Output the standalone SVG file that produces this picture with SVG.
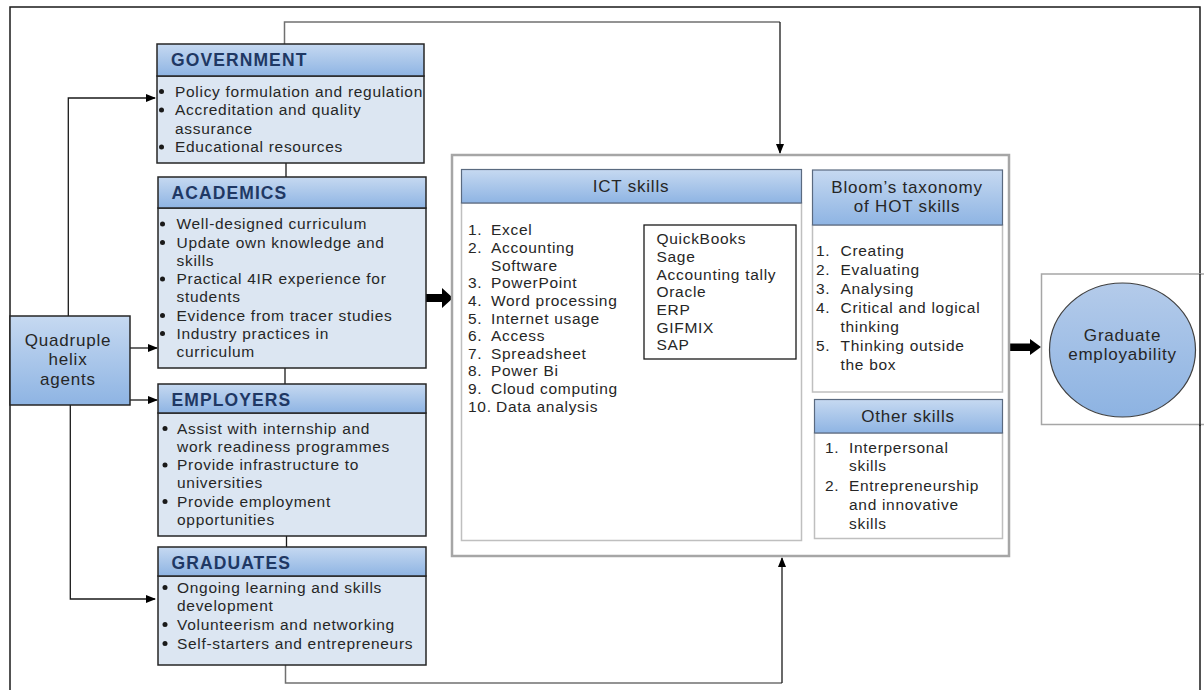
<svg xmlns="http://www.w3.org/2000/svg" width="1204" height="690" viewBox="0 0 1204 690">
<defs>
<linearGradient id="hdr" x1="0" y1="0" x2="0" y2="1">
<stop offset="0" stop-color="#c6d9f1"/>
<stop offset="1" stop-color="#8eb4e3"/>
</linearGradient>
<linearGradient id="circ" x1="0" y1="0" x2="0" y2="1">
<stop offset="0" stop-color="#b4cbea"/>
<stop offset="1" stop-color="#8db3e2"/>
</linearGradient>
<marker id="ah" markerWidth="10" markerHeight="10" refX="9" refY="5" orient="auto" markerUnits="userSpaceOnUse">
<path d="M0,1 L10,5 L0,9 z" fill="#000"/>
</marker>
</defs>
<style>
.t{font-family:"Liberation Sans",Arial,sans-serif;font-size:15.5px;letter-spacing:0.7px;fill:#262626}
.h{font-family:"Liberation Sans",Arial,sans-serif;font-size:17.5px;font-weight:bold;letter-spacing:1.1px;fill:#1f3864}
.c{font-family:"Liberation Sans",Arial,sans-serif;font-size:17px;letter-spacing:0.8px;fill:#262626;text-anchor:middle}
.hb{fill:url(#hdr);stroke:#262626;stroke-width:1.5}
.bb{fill:#dce6f2;stroke:#262626;stroke-width:1.5}
.sh{fill:url(#hdr);stroke:#5a6a80;stroke-width:1.2}
.sb{fill:#fff;stroke:#bfbfbf;stroke-width:1.5}
.ln{fill:none;stroke:#1a1a1a;stroke-width:1.3}
.lg{fill:none;stroke:#707070;stroke-width:1.5}
.thick{fill:#000}
.bul{fill:#1a1a1a}
</style>
<rect id="frame" x="10" y="7" width="1190" height="700" fill="#fff" stroke="#1a1a1a" stroke-width="1.5"/>

<g id="connectors">
<polyline class="lg" points="284.5,44 284.5,22 780,22"/>
<line class="ln" x1="780" y1="22" x2="780" y2="153" marker-end="url(#ah)"/>
<polyline class="lg" points="285.5,665 285.5,683 782,683"/>
<line class="ln" x1="782" y1="683" x2="782" y2="558" marker-end="url(#ah)"/>
<line class="ln" x1="286" y1="163" x2="286" y2="177"/>
<line class="ln" x1="285" y1="368" x2="285" y2="384"/>
<line class="ln" x1="286.5" y1="536" x2="286.5" y2="547"/>
<polyline class="ln" points="68.3,316 68.3,98 155,98" marker-end="url(#ah)"/>
<line class="ln" x1="130" y1="348" x2="157" y2="348" marker-end="url(#ah)"/>
<line class="ln" x1="130" y1="400" x2="157" y2="400" marker-end="url(#ah)"/>
<polyline class="ln" points="70.3,405 70.3,599 155,599" marker-end="url(#ah)"/>
<polygon class="thick" points="426,294 442,294 442,288 453,298 442,308 442,302 426,302"/>
<polygon class="thick" points="592,255.5 634,255.5 634,251 644,259 634,267 634,263 592,263"/>
<polygon class="thick" points="1009,343.5 1030,343.5 1030,339 1041,347 1030,355 1030,351 1009,351"/>
</g>

<g id="quadruple">
<rect x="10" y="316" width="120" height="89" fill="url(#hdr)" stroke="#262626" stroke-width="1.5"/>
<text class="c" x="68" y="346">Quadruple</text>
<text class="c" x="68" y="365">helix</text>
<text class="c" x="68" y="385">agents</text>
</g>

<g id="government">
<rect class="bb" x="157" y="76" width="267" height="87"/>
<rect class="hb" x="157" y="44" width="267" height="32"/>
<text class="h" x="171" y="66">GOVERNMENT</text>
<circle class="bul" cx="161.5" cy="91.5" r="2.5"/><text class="t" x="175" y="96.5">Policy formulation and regulation</text>
<circle class="bul" cx="161.5" cy="110" r="2.5"/><text class="t" x="175" y="115">Accreditation and quality</text>
<text class="t" x="175" y="133.5">assurance</text>
<circle class="bul" cx="161.5" cy="147" r="2.5"/><text class="t" x="175" y="152">Educational resources</text>
</g>

<g id="academics">
<rect class="bb" x="158" y="208" width="268" height="160"/>
<rect class="hb" x="158" y="177" width="268" height="31"/>
<text class="h" x="171.5" y="199">ACADEMICS</text>
<circle class="bul" cx="162.5" cy="224" r="2.5"/><text class="t" x="176.5" y="229">Well-designed curriculum</text>
<circle class="bul" cx="162.5" cy="242.5" r="2.5"/><text class="t" x="176.5" y="247.5">Update own knowledge and</text>
<text class="t" x="176.5" y="265.5">skills</text>
<circle class="bul" cx="162.5" cy="279" r="2.5"/><text class="t" x="176.5" y="284">Practical 4IR experience for</text>
<text class="t" x="176.5" y="302">students</text>
<circle class="bul" cx="162.5" cy="315.5" r="2.5"/><text class="t" x="176.5" y="320.5">Evidence from tracer studies</text>
<circle class="bul" cx="162.5" cy="333.5" r="2.5"/><text class="t" x="176.5" y="338.5">Industry practices in</text>
<text class="t" x="176.5" y="357">curriculum</text>
</g>

<g id="employers">
<rect class="bb" x="158" y="413" width="268" height="123"/>
<rect class="hb" x="158" y="384" width="268" height="29"/>
<text class="h" x="171.5" y="406">EMPLOYERS</text>
<circle class="bul" cx="165" cy="428.5" r="2.5"/><text class="t" x="177" y="433.5">Assist with internship and</text>
<text class="t" x="177" y="451.5">work readiness programmes</text>
<circle class="bul" cx="165" cy="465" r="2.5"/><text class="t" x="177" y="470">Provide infrastructure to</text>
<text class="t" x="177" y="488">universities</text>
<circle class="bul" cx="165" cy="501.5" r="2.5"/><text class="t" x="177" y="506.5">Provide employment</text>
<text class="t" x="177" y="524.5">opportunities</text>
</g>

<g id="graduates">
<rect class="bb" x="158" y="576" width="268" height="89"/>
<rect class="hb" x="158" y="547" width="268" height="29"/>
<text class="h" x="171.5" y="568.5">GRADUATES</text>
<circle class="bul" cx="165" cy="587.5" r="2.5"/><text class="t" x="177" y="592.5">Ongoing learning and skills</text>
<text class="t" x="177" y="610.5">development</text>
<circle class="bul" cx="165" cy="624.5" r="2.5"/><text class="t" x="177" y="629.5">Volunteerism and networking</text>
<circle class="bul" cx="165" cy="643.5" r="2.5"/><text class="t" x="177" y="648.5">Self-starters and entrepreneurs</text>
</g>

<g id="skills-container">
<rect x="452" y="155" width="557" height="401" fill="#fff" stroke="#a6a6a6" stroke-width="2.5"/>
</g>

<g id="ict">
<rect class="sb" x="461.5" y="203" width="340" height="337.5"/>
<rect class="sh" x="461.5" y="169.5" width="340" height="33.5"/>
<text class="c" x="631" y="192">ICT skills</text>
<text class="t" x="468" y="235">1.</text><text class="t" x="491" y="235">Excel</text>
<text class="t" x="468" y="253">2.</text><text class="t" x="491" y="253">Accounting</text>
<text class="t" x="491" y="270.5">Software</text>
<text class="t" x="468" y="288">3.</text><text class="t" x="491" y="288">PowerPoint</text>
<text class="t" x="468" y="305.5">4.</text><text class="t" x="491" y="305.5">Word processing</text>
<text class="t" x="468" y="323.5">5.</text><text class="t" x="491" y="323.5">Internet usage</text>
<text class="t" x="468" y="341">6.</text><text class="t" x="491" y="341">Access</text>
<text class="t" x="468" y="358.5">7.</text><text class="t" x="491" y="358.5">Spreadsheet</text>
<text class="t" x="468" y="376">8.</text><text class="t" x="491" y="376">Power Bi</text>
<text class="t" x="468" y="393.5">9.</text><text class="t" x="491" y="393.5">Cloud computing</text>
<text class="t" x="468" y="411.5">10.</text><text class="t" x="496" y="411.5">Data analysis</text>
</g>

<g id="software">
<rect x="644" y="225" width="152" height="134" fill="#fff" stroke="#1a1a1a" stroke-width="1.3"/>
<text class="t" x="656.5" y="244">QuickBooks</text>
<text class="t" x="656.5" y="262">Sage</text>
<text class="t" x="656.5" y="280">Accounting tally</text>
<text class="t" x="656.5" y="297">Oracle</text>
<text class="t" x="656.5" y="315">ERP</text>
<text class="t" x="656.5" y="333">GIFMIX</text>
<text class="t" x="656.5" y="350">SAP</text>
</g>

<g id="bloom">
<rect class="sb" x="812.5" y="225" width="190" height="167"/>
<rect class="sh" x="812.5" y="170" width="190" height="55"/>
<text class="c" x="907" y="192.5">Bloom’s taxonomy</text>
<text class="c" x="907" y="212">of HOT skills</text>
<text class="t" x="816" y="256">1.</text><text class="t" x="840.5" y="256">Creating</text>
<text class="t" x="816" y="275">2.</text><text class="t" x="840.5" y="275">Evaluating</text>
<text class="t" x="816" y="293.5">3.</text><text class="t" x="840.5" y="293.5">Analysing</text>
<text class="t" x="816" y="312.5">4.</text><text class="t" x="840.5" y="312.5">Critical and logical</text>
<text class="t" x="840.5" y="331.5">thinking</text>
<text class="t" x="816" y="350.5">5.</text><text class="t" x="840.5" y="350.5">Thinking outside</text>
<text class="t" x="840.5" y="369.5">the box</text>
</g>

<g id="other">
<rect class="sb" x="814.5" y="433" width="188" height="105.5"/>
<rect class="sh" x="814.5" y="399.5" width="188" height="33.5"/>
<text class="c" x="908" y="422">Other skills</text>
<text class="t" x="825" y="452.5">1.</text><text class="t" x="849" y="452.5">Interpersonal</text>
<text class="t" x="849" y="471">skills</text>
<text class="t" x="825" y="490.5">2.</text><text class="t" x="849" y="490.5">Entrepreneurship</text>
<text class="t" x="849" y="509.5">and innovative</text>
<text class="t" x="849" y="529">skills</text>
</g>

<g id="employability">
<rect x="1041.5" y="274" width="170" height="150.5" fill="#fff" stroke="#a6a6a6" stroke-width="1.5"/>
<line x1="1200" y1="274" x2="1200" y2="426" stroke="#1a1a1a" stroke-width="1.5"/>
<ellipse cx="1122.5" cy="350" rx="73" ry="67" fill="url(#circ)" stroke="#404040" stroke-width="1.2"/>
<text class="c" x="1122.5" y="341">Graduate</text>
<text class="c" x="1122.5" y="359.5">employability</text>
</g>
</svg>
